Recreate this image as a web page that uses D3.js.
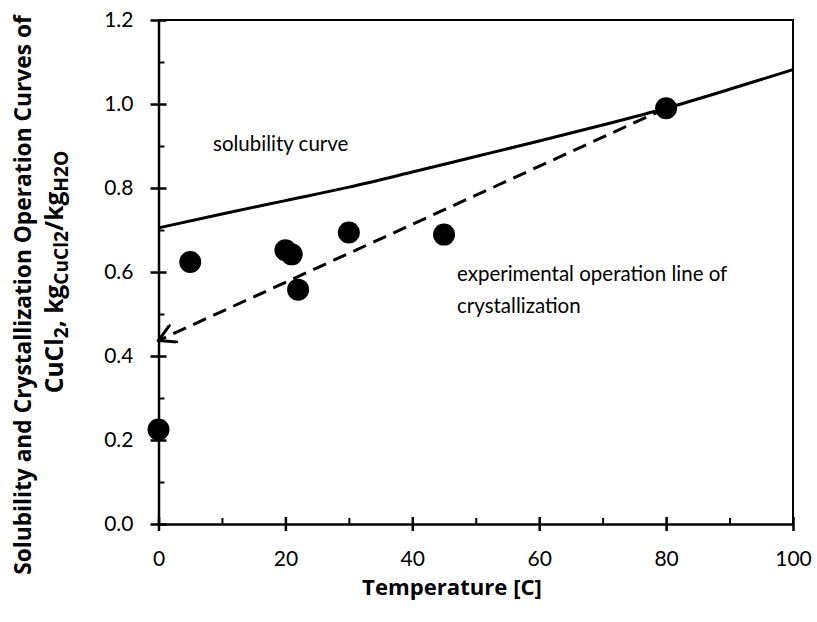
<!DOCTYPE html>
<html>
<head>
<meta charset="utf-8">
<script src="https://cdn.jsdelivr.net/npm/d3@7"></script>
<style>
  body { margin: 0; background: #fff; }
  svg { display: block; }
  text { font-family: Lato, "Open Sans", sans-serif; fill: #000; }
  .title { font-family: "Open Sans", Lato, sans-serif; font-weight: bold; }
</style>
</head>
<body>
<div id="vis"></div>
<script>
// Frame
const FRAME_WIDTH = 817;
const FRAME_HEIGHT = 622;
const MARGINS = {left: 158.5, right: 24, top: 20, bottom: 98};

// Data
// solubility curve (temperature C, kg CuCl2 / kg H2O)
const SOL_T = [0, 10, 20, 30, 40, 50, 60, 70, 80, 90, 100];
const SOL_Y = [0.705, 0.738, 0.770, 0.802, 0.838, 0.875, 0.912, 0.950, 0.990, 1.035, 1.082];

// experimental points
const EXP_T = [0, 5, 20, 21, 22, 30, 45, 80];
const EXP_Y = [0.225, 0.624, 0.652, 0.642, 0.558, 0.694, 0.689, 0.990];

// operation line (dashed arrow from 80 C back to 0 C)
const OP_T = [80, 0];
const OP_Y = [0.990, 0.437];

// ticks
const X_TICKS = [0, 20, 40, 60, 80, 100];
const X_MINOR = [10, 30, 50, 70, 90];
const Y_TICKS = [0.0, 0.2, 0.4, 0.6, 0.8, 1.0, 1.2];
const Y_MINOR = [0.1, 0.3, 0.5, 0.7, 0.9, 1.1];

const X_SCALE = d3.scaleLinear()
                  .domain([0, 100])
                  .range([MARGINS.left, FRAME_WIDTH - MARGINS.right]);
const Y_SCALE = d3.scaleLinear()
                  .domain([0, 1.2])
                  .range([FRAME_HEIGHT - MARGINS.bottom, MARGINS.top]);

const FRAME = d3.select("#vis")
                .append("svg")
                  .attr("width", FRAME_WIDTH)
                  .attr("height", FRAME_HEIGHT);

const X0 = X_SCALE(0), X1 = X_SCALE(100);
const Y0 = Y_SCALE(0), Y1 = Y_SCALE(1.2);

// top and right border of the plot area
FRAME.append("path")
     .attr("d", "M" + X0 + "," + Y1 + "H" + X1 + "V" + Y0)
     .attr("fill", "none")
     .attr("stroke", "#000")
     .attr("stroke-width", 2);

// minor ticks (inside)
FRAME.append("g")
     .attr("transform", "translate(" + X0 + ",0)")
     .call(d3.axisLeft(Y_SCALE).tickValues(Y_MINOR).tickSize(-6).tickFormat(""))
     .call(g => g.select(".domain").remove())
     .selectAll("line").attr("stroke-width", 2);

FRAME.append("g")
     .attr("transform", "translate(0," + Y0 + ")")
     .call(d3.axisBottom(X_SCALE).tickValues(X_MINOR).tickSize(-6).tickFormat(""))
     .call(g => g.select(".domain").remove())
     .selectAll("line").attr("stroke-width", 2);

// y axis
const YAXIS = FRAME.append("g")
     .attr("transform", "translate(" + X0 + ",0)")
     .call(d3.axisLeft(Y_SCALE).tickValues(Y_TICKS).tickSize(8).tickSizeOuter(0)
             .tickPadding(17).tickFormat(d3.format(".1f")));
YAXIS.select(".domain").attr("stroke-width", 2.5);
YAXIS.selectAll(".tick line").attr("x1", 8).attr("stroke-width", 2.5);
YAXIS.selectAll("text").attr("font-size", "21px").style("font-family", "Lato");

// x axis
const XAXIS = FRAME.append("g")
     .attr("transform", "translate(0," + Y0 + ")")
     .call(d3.axisBottom(X_SCALE).tickValues(X_TICKS).tickSize(7).tickSizeOuter(0)
             .tickFormat(d3.format("d")));
XAXIS.select(".domain").attr("stroke-width", 2.5);
XAXIS.selectAll(".tick line").attr("y1", -7).attr("stroke-width", 2.5);
XAXIS.selectAll("text").attr("y", 42).attr("dy", null)
     .attr("font-size", "21px").style("font-family", "Lato");

// solubility curve
const LINE = d3.line()
               .x((d) => X_SCALE(d[0]))
               .y((d) => Y_SCALE(d[1]))
               .curve(d3.curveMonotoneX);

FRAME.append("path")
     .datum(SOL_T.map((t, i) => [t, SOL_Y[i]]))
     .attr("d", LINE)
     .attr("fill", "none")
     .attr("stroke", "#000")
     .attr("stroke-width", 3);

// operation line with open arrow head
FRAME.append("defs").append("marker")
     .attr("id", "arrow")
     .attr("viewBox", "0 0 20 20")
     .attr("refX", 18).attr("refY", 10)
     .attr("markerWidth", 20).attr("markerHeight", 20)
     .attr("markerUnits", "userSpaceOnUse")
     .attr("orient", "auto")
   .append("path")
     .attr("d", "M2,1 L18,10 L2,19")
     .attr("fill", "none")
     .attr("stroke", "#000")
     .attr("stroke-width", 3)
     .attr("stroke-linecap", "round");

FRAME.append("path")
     .datum(OP_T.map((t, i) => [t, OP_Y[i]]))
     .attr("d", d3.line().x((d) => X_SCALE(d[0])).y((d) => Y_SCALE(d[1])))
     .attr("fill", "none")
     .attr("stroke", "#000")
     .attr("stroke-width", 3)
     .attr("stroke-dasharray", "14,8")
     .attr("marker-end", "url(#arrow)");

// experimental points
FRAME.selectAll(".point")
     .data(EXP_T.map((t, i) => [t, EXP_Y[i]]))
     .enter()
     .append("circle")
       .attr("class", "point")
       .attr("cx", (d) => X_SCALE(d[0]))
       .attr("cy", (d) => Y_SCALE(d[1]))
       .attr("r", 11)
       .attr("fill", "#000");

// annotations
FRAME.append("text")
     .attr("x", 213).attr("y", 151)
     .attr("font-size", "20.5px")
     .text("solubility curve");

const NOTE = FRAME.append("text")
     .attr("x", 457).attr("y", 281)
     .attr("font-size", "20.5px");
NOTE.append("tspan").text("experimental operation line of");
NOTE.append("tspan").attr("x", 457).attr("dy", 32).text("crystallization");

// axis titles, font size fitted to the width seen in the picture
function fitSize(sel, target) {
  const w = sel.node().getComputedTextLength();
  return 20 * target / w;
}

const XT = FRAME.append("text")
     .attr("class", "title")
     .attr("x", 452).attr("y", 595)
     .attr("text-anchor", "middle")
     .attr("font-size", "20px")
     .text("Temperature [C]");
XT.attr("font-size", Math.min(fitSize(XT, 180), 23) + "px");

const YT = FRAME.append("text")
     .attr("class", "title")
     .attr("transform", "translate(0,295) rotate(-90)")
     .attr("text-anchor", "middle")
     .attr("font-size", "20px");
const YT1 = YT.append("tspan").attr("x", 0).attr("y", 31)
  .text("Solubility and Crystallization Operation Curves of");
const YFS = Math.min(fitSize(YT1, 560), 23);
YT.attr("font-size", YFS + "px");

// second line with subscripts, sized to its own length in the picture
const YL2 = FRAME.append("text")
     .attr("class", "title")
     .attr("transform", "translate(0,272) rotate(-90)")
     .attr("text-anchor", "middle");
const YT2 = YL2.append("tspan").attr("x", 0).attr("y", 63);
const PARTS = [["CuCl", false], ["2", true], [", kg", false], ["CuCl2", true],
               ["/kg", false], ["H2O", true]];
PARTS.forEach((p) => {
  YT2.append("tspan")
     .attr("class", p[1] ? "sub" : "main")
     .attr("baseline-shift", p[1] ? "-25%" : null)
     .text(p[0]);
});
function sizeLine2(k) {
  YT2.selectAll(".main").attr("font-size", (YFS * k) + "px");
  YT2.selectAll(".sub").attr("font-size", (YFS * k * 0.78) + "px");
}
sizeLine2(1);
const L2 = YL2.node().getComputedTextLength();
sizeLine2(Math.max(0.9, Math.min(1.08, 270 / L2)));
</script>
</body>
</html>
